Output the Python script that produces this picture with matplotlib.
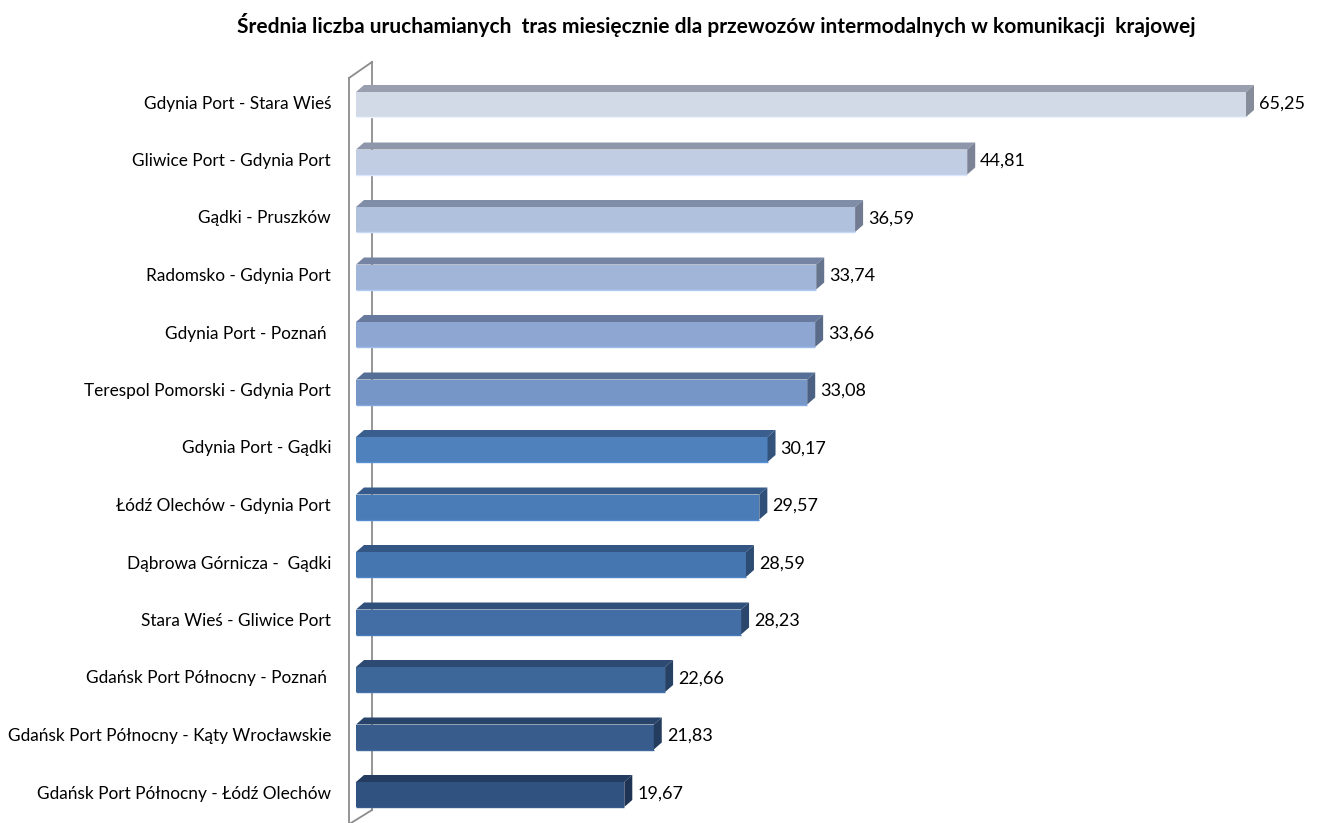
import matplotlib
matplotlib.use("Agg")
import matplotlib.pyplot as plt
from matplotlib.patches import Polygon
from matplotlib.lines import Line2D
import matplotlib.colors as mcolors
import numpy as np

plt.rcParams['font.family'] = ['Lato', 'DejaVu Sans']

title = "Średnia liczba uruchamianych  tras miesięcznie dla przewozów intermodalnych w komunikacji  krajowej"
categories = [
    "Gdynia Port - Stara Wieś",
    "Gliwice Port - Gdynia Port",
    "Gądki - Pruszków",
    "Radomsko - Gdynia Port",
    "Gdynia Port - Poznań ",
    "Terespol Pomorski - Gdynia Port",
    "Gdynia Port - Gądki",
    "Łódź Olechów - Gdynia Port",
    "Dąbrowa Górnicza -  Gądki",
    "Stara Wieś - Gliwice Port",
    "Gdańsk Port Północny - Poznań ",
    "Gdańsk Port Północny - Kąty Wrocławskie",
    "Gdańsk Port Północny - Łódź Olechów",
]
values = [65.25, 44.81, 36.59, 33.74, 33.66, 33.08, 30.17, 29.57, 28.59, 28.23, 22.66, 21.83, 19.67]
value_labels = ["65,25", "44,81", "36,59", "33,74", "33,66", "33,08", "30,17", "29,57",
                "28,59", "28,23", "22,66", "21,83", "19,67"]
front_colors = ["#D2DAE8", "#C1CDE3", "#B0C1DE", "#A0B5D8", "#8DA7D2", "#7596C7", "#4F81BD",
                "#4A7CB8", "#4676AF", "#426EA5", "#3D6699", "#385D8D", "#305280"]

W, H, DPI = 1322, 823, 100
fig = plt.figure(figsize=(W / DPI, H / DPI), dpi=DPI)
fig.patch.set_facecolor("white")

x0_px, xscale = 356, 13.64          # px of zero, px per unit
ytop_px, yspace = 104.5, 57.5       # first bar centre, spacing
xmax = 70
ax_top_px, ax_bot_px = 60, 823
left = x0_px / W
width = xmax * xscale / W
ax = fig.add_axes([left, 1 - ax_bot_px / H, width, (ax_bot_px - ax_top_px) / H])
ax.set_xlim(0, xmax)
ylim_top = -(ytop_px - ax_top_px) / yspace
ylim_bot = (ax_bot_px - ytop_px) / yspace
ax.set_ylim(ylim_bot, ylim_top)
ax.axis("off")

bar_h = 25 / yspace
ddx = 8 / xscale
ddy = 7 / yspace


def shade(c, f):
    r, g, b = mcolors.to_rgb(c)
    return (r * f, g * f, min(1, b * f * 1.03))


ypos = np.arange(len(values))
for i, (v, c) in enumerate(zip(values, front_colors)):
    yc = ypos[i]
    yt = yc - bar_h / 2
    yb = yc + bar_h / 2
    top_c = shade(c, 0.73)
    side_c = shade(c, 0.64)
    ax.barh(yc, v, height=bar_h, color=c, zorder=3)
    ax.add_patch(Polygon([(0, yt), (v, yt), (v + ddx, yt - ddy), (ddx, yt - ddy)],
                         closed=True, facecolor=top_c, edgecolor="none", zorder=3))
    ax.add_patch(Polygon([(v, yt), (v + ddx, yt - ddy), (v + ddx, yb - ddy), (v, yb)],
                         closed=True, facecolor=side_c, edgecolor="none", zorder=3))
    ax.plot([0, v], [yb, yb], color=mcolors.to_hex(np.clip(np.array(mcolors.to_rgb(c)) * 1.12, 0, 1)),
            lw=1.0, zorder=4, solid_capstyle="butt")
    ax.text(v + ddx + 5 / xscale, yc - 1 / yspace, value_labels[i], ha="left", va="center",
            fontsize=13, color="#000000", zorder=5)


def fx(px):
    return px / W


def fy(py):
    return 1 - py / H


wall_col = "#8C8C8C"
fig.add_artist(Line2D([fx(349), fx(349)], [fy(78), fy(823)], color=wall_col, lw=1.3, zorder=1))
fig.add_artist(Line2D([fx(349), fx(372)], [fy(78), fy(62)], color=wall_col, lw=1.3, zorder=1))
fig.add_artist(Line2D([fx(372), fx(372)], [fy(62), fy(810)], color=wall_col, lw=1.3, zorder=0))
fig.add_artist(Line2D([fx(351), fx(372)], [fy(823), fy(810)], color=wall_col, lw=1.3, zorder=0))
ax.set_zorder(2)

for i, cat in enumerate(categories):
    ax.text(-25 / xscale, ypos[i] - 1 / yspace, cat, ha="right", va="center", fontsize=12.4,
            color="#000000", clip_on=False)

fig.text(716 / W, fy(25), title, ha="center", va="center", fontsize=15, fontweight="bold",
         color="#000000")

fig.savefig("out.png", dpi=DPI, facecolor="white")
